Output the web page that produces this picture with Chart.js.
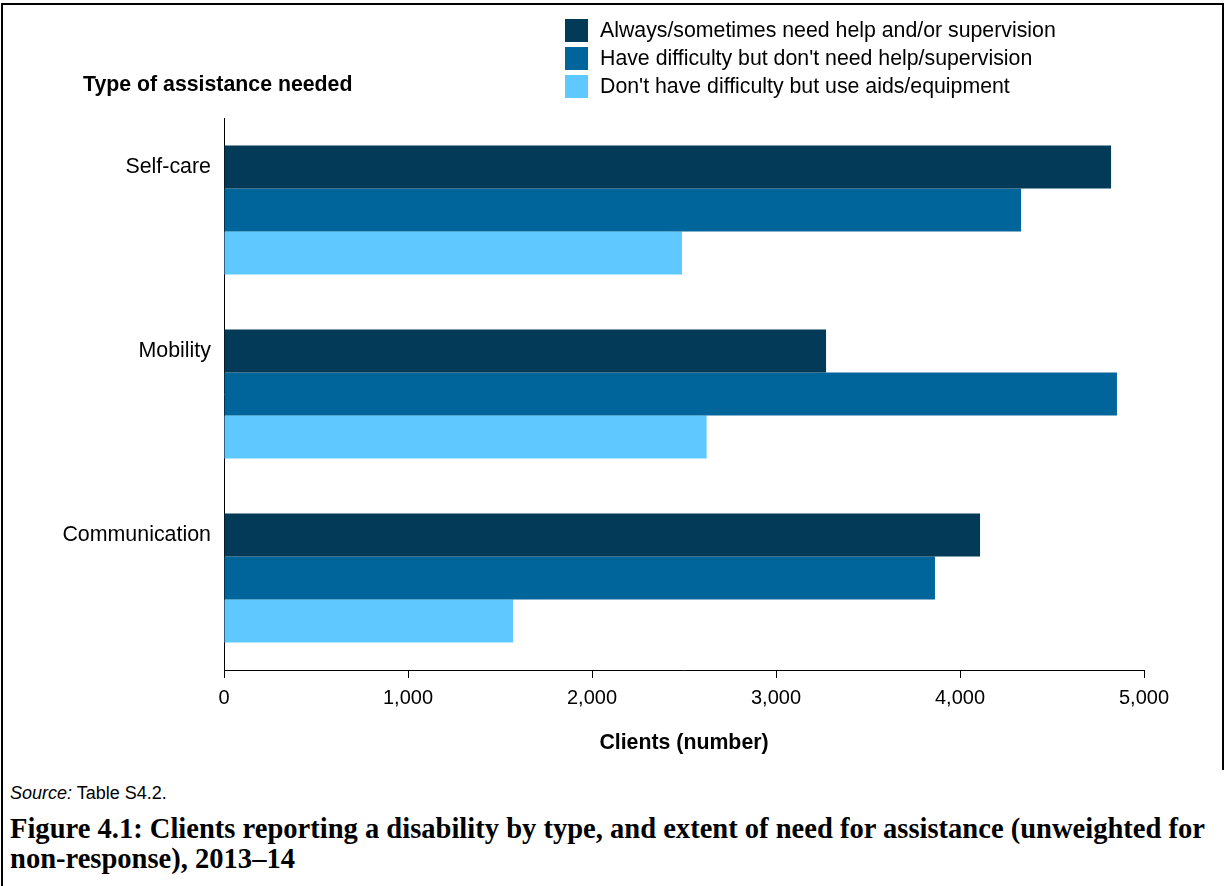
<!DOCTYPE html>
<html><head><meta charset="utf-8">
<script src="https://cdn.jsdelivr.net/npm/chart.js@4"></script>
<style>
html,body{margin:0;padding:0;background:#fff;}
body{width:1226px;height:886px;position:relative;overflow:hidden;font-family:"Liberation Sans",Arial,sans-serif;color:#000;}
#frameTop{position:absolute;left:1px;top:3px;width:1223px;height:2px;background:#000;}
#frameLeft{position:absolute;left:1px;top:3px;width:2px;height:883px;background:#000;}
#frameRight{position:absolute;left:1222px;top:3px;width:2px;height:767px;background:#000;}
#wrap{position:absolute;left:0;top:0;width:1226px;height:770px;}
#ytitle{position:absolute;left:83px;top:72px;font-weight:bold;font-size:21.3px;line-height:24px;white-space:nowrap;}
#legend{position:absolute;left:565px;top:16px;}
.li{display:flex;align-items:center;height:28px;font-size:21.3px;white-space:nowrap;}
.sw{width:23px;height:23px;margin-right:12px;flex:none;}
#source{position:absolute;left:10px;top:783px;font-size:18px;line-height:21px;white-space:nowrap;}
#caption{position:absolute;left:10px;top:814px;font-family:"Liberation Serif","Times New Roman",serif;font-weight:bold;font-size:24px;line-height:30px;white-space:nowrap;}
</style>
</head><body>
<div id="frameTop"></div><div id="frameLeft"></div><div id="frameRight"></div>
<div id="wrap"><canvas id="c" width="1226" height="770"></canvas></div>
<div id="ytitle">Type of assistance needed</div>
<div id="legend"></div>
<div id="source"><i>Source:</i> Table S4.2.</div>
<div id="caption"><span id="cap1">Figure 4.1: Clients reporting a disability by type, and extent of need for assistance (unweighted for</span><br><span>non-response), 2013–14</span></div>
<script>
const categories = ['Self-care', 'Mobility', 'Communication'];
const seriesNames = [
  'Always/sometimes need help and/or supervision',
  "Have difficulty but don't need help/supervision",
  "Don't have difficulty but use aids/equipment"
];
const alwaysSometimes = [4821, 3272, 4109];
const haveDifficulty = [4332, 4853, 3864];
const useAids = [2489, 2623, 1571];
const xTicks = [0, 1000, 2000, 3000, 4000, 5000];
const seriesColors = ['#023a57', '#00659a', '#5fc8ff'];

const seriesValues = [alwaysSometimes, haveDifficulty, useAids];

Chart.defaults.font.family = '"Liberation Sans", Arial, sans-serif';
Chart.defaults.color = '#000';

const chart = new Chart(document.getElementById('c'), {
  type: 'bar',
  data: {
    labels: categories,
    datasets: seriesNames.map((n, i) => ({
      label: n,
      data: seriesValues[i],
      backgroundColor: seriesColors[i],
      borderWidth: 0,
      categoryPercentage: 0.701,
      barPercentage: 1
    }))
  },
  options: {
    indexAxis: 'y',
    responsive: false,
    animation: false,
    devicePixelRatio: 1,
    layout: { padding: { left: 0, right: 82, top: 118, bottom: 0 } },
    plugins: { legend: { display: false }, tooltip: { enabled: false } },
    scales: {
      x: {
        type: 'linear',
        min: 0, max: 5000,
        afterBuildTicks(s) { s.ticks = xTicks.map(v => ({ value: v })); },
        afterFit(s) { s.height = 100; },
        grid: { display: true, drawOnChartArea: false, drawTicks: true, tickLength: 8, color: '#000', lineWidth: 1 },
        border: { display: true, color: '#000', width: 1 },
        ticks: { padding: 8, font: { size: 20 }, color: '#000', maxRotation: 0, autoSkip: false,
          callback: v => Number(v).toLocaleString('en-US') },
        title: { display: true, text: 'Clients (number)', font: { size: 21.3, weight: 'bold' }, color: '#000', padding: { top: 0, bottom: 14 } }
      },
      y: {
        afterFit(s) { s.width = 224; },
        grid: { display: true, drawOnChartArea: false, drawTicks: false },
        border: { display: true, color: '#000', width: 1 },
        ticks: { padding: 13, labelOffset: -43, font: { size: 21.4 }, color: '#000' }
      }
    }
  }
});

// HTML legend built from datasets
const lg = document.getElementById('legend');
chart.data.datasets.forEach(ds => {
  const row = document.createElement('div'); row.className = 'li';
  const sw = document.createElement('div'); sw.className = 'sw'; sw.style.background = ds.backgroundColor;
  const tx = document.createElement('span'); tx.textContent = ds.label;
  row.appendChild(sw); row.appendChild(tx); lg.appendChild(row);
});

// fit caption width to reference line width
const cap = document.getElementById('caption');
const cap1 = document.getElementById('cap1');
const w = cap1.getBoundingClientRect().width;
cap.style.fontSize = (24 * 1195 / w).toFixed(2) + 'px';
</script>
</body></html>
